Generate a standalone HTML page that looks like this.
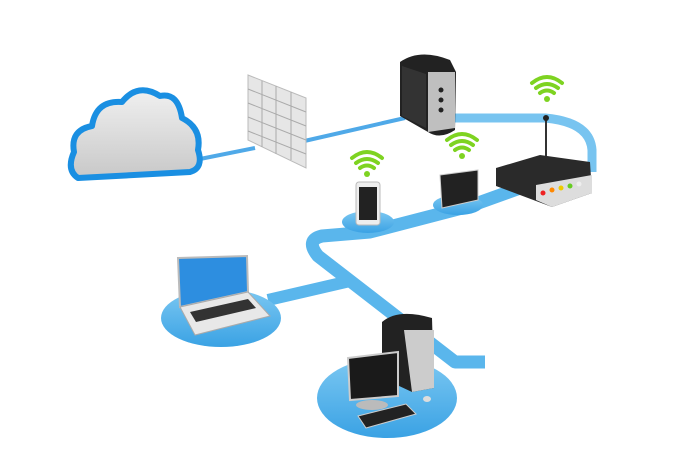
<!DOCTYPE html>
<html><head><meta charset="utf-8"><style>html,body{margin:0;padding:0;background:#fff}svg{display:block}</style></head>
<body>
<svg width="695" height="470" viewBox="0 0 695 470" xmlns="http://www.w3.org/2000/svg">
<defs>
<linearGradient id="cl" x1="0" y1="0" x2="0" y2="1"><stop offset="0" stop-color="#f0f0f0"/><stop offset="1" stop-color="#c8c8c8"/></linearGradient>
<linearGradient id="bd" x1="0" y1="0" x2="0" y2="1"><stop offset="0" stop-color="#7cc8f2"/><stop offset="1" stop-color="#3aa2e4"/></linearGradient>
</defs>
<!-- thin cables -->
<path d="M195 160 L255 148 M300 142 L405 118" stroke="#4fa9e8" stroke-width="4" fill="none"/>
<!-- loop band -->
<path d="M440 118 L545 118 Q590 122 592 150 L592 172" stroke="#78c4f0" stroke-width="9" fill="none"/>
<path d="M520 188 L470 206 L370 232 L322 236 Q305 240 318 256 L455 362 L485 362" stroke="#5ab6ec" stroke-width="13" fill="none" stroke-linejoin="round"/>
<path d="M268 300 L350 281" stroke="#5ab6ec" stroke-width="12" fill="none"/>
<!-- disks -->
<ellipse cx="368" cy="222" rx="26" ry="11" fill="url(#bd)"/>
<ellipse cx="458" cy="205" rx="25" ry="10" fill="url(#bd)"/>
<ellipse cx="221" cy="318" rx="60" ry="29" fill="url(#bd)"/>
<ellipse cx="387" cy="398" rx="70" ry="40" fill="url(#bd)"/>
<!-- cloud -->
<path d="M78 178 Q66 170 74 152 Q70 130 92 126 Q96 100 122 102 Q138 82 160 96 Q178 92 182 118 Q202 128 198 150 Q204 168 190 172 Z" fill="url(#cl)" stroke="#1a8fe2" stroke-width="6" stroke-linejoin="round"/>
<!-- firewall -->
<path d="M248 75 L306 98 L306 168 L248 140 Z" fill="#e6e6e6" stroke="#bbb"/>
<g stroke="#aaa" stroke-width="1">
<path d="M248 89 L306 112 M248 103 L306 126 M248 117 L306 140 M248 131 L306 154"/>
<path d="M262 81 L262 147 M276 86 L276 154 M291 92 L291 160"/>
</g>
<!-- server -->
<path d="M400 62 Q420 48 450 60 L456 72 L455 130 Q440 140 428 132 L400 116 Z" fill="#222"/>
<path d="M402 66 L426 74 L426 128 L402 116 Z" fill="#333"/>
<path d="M428 72 L455 72 L455 128 L428 132 Z" fill="#bfbfbf"/>
<circle cx="441" cy="90" r="2.5" fill="#222"/><circle cx="441" cy="100" r="2.5" fill="#222"/><circle cx="441" cy="110" r="2.5" fill="#222"/>
<!-- router -->
<line x1="546" y1="118" x2="546" y2="160" stroke="#333" stroke-width="2"/>
<circle cx="546" cy="118" r="3" fill="#222"/>
<path d="M496 168 L540 155 L590 162 L592 193 L552 207 L496 186 Z" fill="#2a2a2a"/>
<path d="M536 185 L592 175 L592 193 L552 207 L536 200 Z" fill="#ddd"/>
<circle cx="543" cy="193" r="2.5" fill="#e22"/><circle cx="552" cy="190" r="2.5" fill="#f80"/><circle cx="561" cy="188" r="2.5" fill="#ec0"/><circle cx="570" cy="186" r="2.5" fill="#6c2"/><circle cx="579" cy="184" r="2.5" fill="#eee"/>
<!-- phone -->
<rect x="356" y="182" width="24" height="43" rx="3" fill="#eee" stroke="#bbb"/>
<rect x="359" y="187" width="18" height="33" fill="#222"/>
<!-- tablet -->
<path d="M440 175 L478 170 L478 200 L442 208 Z" fill="#222" stroke="#ccc"/>
<!-- wifi icons -->
<g fill="none" stroke="#7ed321" stroke-width="4" stroke-linecap="round">
<path d="M352 158 Q367 146 382 158 M356 163 Q367 155 378 163 M360 168 Q367 163 374 168"/>
<path d="M447 140 Q462 128 477 140 M451 145 Q462 137 473 145 M455 150 Q462 145 469 150"/>
<path d="M532 83 Q547 71 562 83 M536 88 Q547 80 558 88 M540 93 Q547 88 554 93"/>
</g>
<circle cx="367" cy="174" r="3" fill="#7ed321"/><circle cx="462" cy="156" r="3" fill="#7ed321"/><circle cx="547" cy="99" r="3" fill="#7ed321"/>
<!-- laptop -->
<path d="M178 258 L247 256 L248 292 L180 307 Z" fill="#2d8ee0" stroke="#bbb" stroke-width="2"/>
<path d="M180 307 L248 292 L270 316 L195 335 Z" fill="#e8e8e8" stroke="#aaa"/>
<path d="M190 312 L248 299 L256 308 L196 322 Z" fill="#333"/>
<!-- desktop -->
<path d="M382 322 Q398 308 432 318 L434 388 L412 392 L382 378 Z" fill="#222"/>
<path d="M404 330 L434 330 L434 388 L412 392 Z" fill="#ccc"/>
<path d="M348 358 L398 352 L398 396 L350 400 Z" fill="#1a1a1a" stroke="#ccc" stroke-width="2"/>
<ellipse cx="372" cy="405" rx="16" ry="5" fill="#bbb"/>
<path d="M358 416 L406 404 L416 414 L366 428 Z" fill="#222" stroke="#ccc"/>
<ellipse cx="427" cy="399" rx="4" ry="3" fill="#ddd"/>
</svg>
</body></html>
